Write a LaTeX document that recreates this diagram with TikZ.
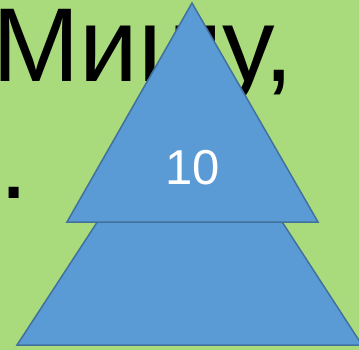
\documentclass[tikz,border=0pt]{standalone}
\usepackage{fontspec}
\setmainfont{Liberation Sans}
\definecolor{slidegreen}{HTML}{A9DA7B}
\definecolor{shapeblue}{HTML}{5B9BD5}
\definecolor{shapeline}{HTML}{41719C}
\tikzset{tri/.style={fill=shapeblue,draw=shapeline,line width=1.5pt}}
\begin{document}
\begin{tikzpicture}[x=1pt,y=-1pt]
	\fill[slidegreen] (0,0) rectangle (359,350);
	\useasboundingbox (0,0) rectangle (359,350);
	\node[anchor=base west,inner sep=0pt,font=\fontsize{105}{116}\selectfont] (line1) at (-8,82) {Мишу,};
	\node[anchor=base west,inner sep=0pt,font=\fontsize{105}{116}\selectfont] (line2) at (-1,198) {.};
	\draw[tri] (190,80) -- (17,345) -- (362,345) -- cycle;
	\draw[tri] (192,3) -- (67,222) -- (318,222) -- cycle;
	\node[text=white,inner sep=0pt,font=\fontsize{49}{50}\selectfont,anchor=base] (num) at (193,185) {10};
\end{tikzpicture}
\end{document}
